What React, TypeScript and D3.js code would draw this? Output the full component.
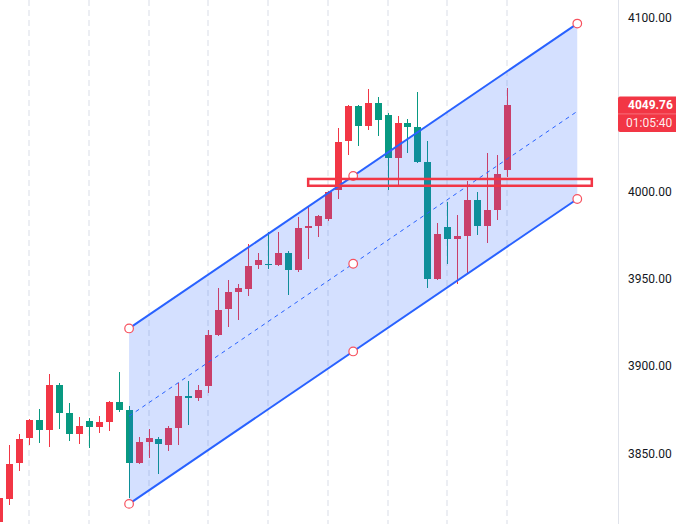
import React from "react";
import * as d3 from "d3";

// ---- data ----
const opens = [
  3810.6, 3824.0, 3844.6, 3858.9, 3869.1, 3863.5, 3889.2, 3873.1, 3861.2, 3868.5,
  3865.3, 3868.1, 3879.4, 3874.8, 3844.6, 3856.7, 3858.2, 3854.8, 3864.5, 3882.9,
  3881.7, 3888.6, 3917.8, 3932.7, 3942.5, 3944.2, 3958.0, 3958.5, 3958.0, 3964.9,
  3955.1, 3979.2, 3980.3, 3984.3, 4001.0, 4029.1, 4049.1, 4037.7, 4050.9, 4044.0,
  4019.3, 4039.4, 4037.1, 4017.0, 3949.9, 3979.8, 3972.9, 3974.6, 3995.2, 3980.3,
  3989.5, 4012.4,
];
const highs = [
  3826.0, 3854.8, 3861.1, 3869.5, 3875.4, 3895.5, 3890.3, 3878.8, 3870.8, 3870.2,
  3871.4, 3880.0, 3896.6, 3877.1, 3859.3, 3863.9, 3859.3, 3865.7, 3890.3, 3891.5,
  3889.2, 3920.7, 3944.8, 3949.4, 3947.1, 3970.0, 3964.9, 3976.9, 3976.9, 3966.0,
  3985.5, 3991.2, 3986.5, 4000.5, 4036.5, 4049.5, 4049.5, 4058.9, 4054.3, 4045.1,
  4043.4, 4041.7, 4057.2, 4029.1, 3982.1, 3994.1, 3986.6, 4006.1, 3999.8, 4022.2,
  4021.0, 4059.5,
];
const lows = [
  3805.0, 3820.2, 3840.0, 3854.9, 3856.1, 3853.8, 3864.1, 3857.2, 3855.5, 3853.2,
  3861.8, 3862.6, 3873.9, 3824.5, 3844.0, 3847.5, 3838.3, 3851.3, 3854.8, 3866.2,
  3880.0, 3884.6, 3917.5, 3922.4, 3926.4, 3940.2, 3955.7, 3955.7, 3957.4, 3940.8,
  3954.0, 3961.4, 3974.0, 3983.2, 3995.8, 4021.0, 4026.2, 4035.4, 4031.9, 4001.0,
  4003.8, 4022.2, 4016.5, 3944.8, 3949.4, 3958.5, 3947.1, 3953.4, 3975.2, 3970.6,
  3983.8, 4008.4,
];
const closes = [
  3824.5, 3843.9, 3858.2, 3869.1, 3863.5, 3889.2, 3873.3, 3861.2, 3865.7, 3865.3,
  3867.9, 3879.4, 3875.0, 3844.6, 3856.5, 3858.8, 3855.5, 3864.5, 3882.9, 3881.7,
  3886.3, 3917.8, 3932.2, 3942.5, 3944.8, 3957.4, 3960.8, 3958.0, 3964.9, 3955.1,
  3979.2, 3980.3, 3986.1, 3999.8, 4028.5, 4049.1, 4037.7, 4050.9, 4041.1, 4019.3,
  4039.4, 4037.1, 4017.0, 3949.9, 3975.7, 3972.9, 3974.6, 3995.2, 3980.3, 3989.5,
  4010.1, 4049.76,
];

const tickValues = [4100, 4000, 3950, 3900, 3850];
const tickLabels = ["4100.00", "4000.00", "3950.00", "3900.00", "3850.00"];
const gridIndices = [3, 9, 15, 21, 27, 33, 39, 45, 51];

// parallel channel: [bar index, price]
const channelTimes = [13, 58];
const channelTopPrices = [3921.6, 4096.4];
const channelWidth = 100.6;

// rectangle drawing: bar index range and price range
const rectTimes = [30.98, 59.46];
const rectPrices = [4007.3, 4003.4];

const lastPrice = 4049.76;
const lastPriceLabel = "4049.76";
const countdownLabel = "01:05:40";

// ---- styles ----
const W = 676;
const H = 524;
const AXIS_X = 618;
const UP = "#F23645";
const DOWN = "#089981";
const BLUE = "#2962FF";
const FONT = "Roboto, 'Liberation Sans', Arial, sans-serif";

export default function App() {
  const x = d3.scaleLinear().domain([0, 51]).range([-0.4, 507.56]);
  const y = d3.scaleLinear().domain([4000, 4100]).range([191.7, 17.3]);

  const candles = opens.map((o, i) => ({
    i,
    o,
    h: highs[i],
    l: lows[i],
    c: closes[i],
  }));

  const tl = [x(channelTimes[0]), y(channelTopPrices[0])];
  const tr = [x(channelTimes[1]), y(channelTopPrices[1])];
  const bl = [x(channelTimes[0]), y(channelTopPrices[0] - channelWidth)];
  const br = [x(channelTimes[1]), y(channelTopPrices[1] - channelWidth)];
  const ml = [tl[0], (tl[1] + bl[1]) / 2];
  const mr = [tr[0], (tr[1] + br[1]) / 2];
  const midT = (channelTimes[0] + channelTimes[1]) / 2;
  const mx = x(midT);
  const mTop = [mx, (tl[1] + tr[1]) / 2];
  const mMid = [mx, (ml[1] + mr[1]) / 2];
  const mBot = [mx, (bl[1] + br[1]) / 2];

  const line = d3.line<number[]>().x((d) => d[0]).y((d) => d[1]);
  const poly = line([tl, tr, br, bl]) + "Z";

  const rx0 = x(rectTimes[0]);
  const rx1 = x(rectTimes[1]);
  const ry0 = y(rectPrices[0]);
  const ry1 = y(rectPrices[1]);

  const ly = y(lastPrice);
  const boxTop = ly - 8.5;

  const anchors = [tl, bl, tr, br, mTop, mMid, mBot];

  return (
    <svg
      width={W}
      height={H}
      style={{ position: "fixed", left: 0, top: 0, background: "#fff" }}
      fontFamily={FONT}
    >
      <rect x={0} y={0} width={W} height={H} fill="#fff" />
      {/* vertical dashed grid */}
      {gridIndices.map((g) => (
        <line
          key={g}
          x1={Math.floor(x(g))}
          x2={Math.floor(x(g))}
          y1={0}
          y2={H}
          stroke="#eceef3"
          strokeWidth={2}
          strokeDasharray="6 4"
        />
      ))}
      {/* candles */}
      {candles.map((d) => {
        const cx = x(d.i);
        const left = Math.round(cx - 3.5);
        const col = d.c >= d.o ? UP : DOWN;
        const top = y(Math.max(d.o, d.c));
        const bot = y(Math.min(d.o, d.c));
        return (
          <g key={d.i} shapeRendering="crispEdges">
            <rect x={left + 3} y={y(d.h)} width={1} height={y(d.l) - y(d.h)} fill={col} />
            <rect x={left} y={top} width={7} height={Math.max(1, bot - top)} fill={col} />
          </g>
        );
      })}
      {/* channel */}
      <path d={poly} fill={BLUE} fillOpacity={0.2} />
      <path d={line([tl, tr])!} stroke={BLUE} strokeWidth={2} fill="none" />
      <path d={line([bl, br])!} stroke={BLUE} strokeWidth={2} fill="none" />
      <path d={line([ml, mr])!} stroke={BLUE} strokeWidth={1} strokeDasharray="4 4" fill="none" />
      {anchors.map((p, k) => (
        <circle key={k} cx={p[0]} cy={p[1]} r={4.3} fill="#fff" stroke="#F7525F" strokeWidth={1.2} />
      ))}
      {/* rectangle */}
      <rect
        x={rx0}
        y={ry0}
        width={rx1 - rx0}
        height={ry1 - ry0}
        fill="none"
        stroke={UP}
        strokeWidth={2.5}
      />
      {/* right axis */}
      <rect x={AXIS_X} y={0} width={W - AXIS_X} height={H} fill="#fff" />
      <line x1={AXIS_X + 0.5} x2={AXIS_X + 0.5} y1={0} y2={H} stroke="#e0e3eb" strokeWidth={1} />
      {tickValues.map((v, k) => (
        <text key={v} x={628} y={y(v)} dy="0.35em" fontSize={12} fill="#131722">
          {tickLabels[k]}
        </text>
      ))}
      <rect x={AXIS_X} y={boxTop} width={W - AXIS_X + 4} height={35.5} rx={2} fill={UP} />
      <line x1={AXIS_X} x2={W} y1={boxTop + 17.5} y2={boxTop + 17.5} stroke="#f7707c" strokeWidth={1} />
      <text x={628} y={boxTop + 8.8} dy="0.35em" fontSize={12} fontWeight="bold" fill="#fff">
        {lastPriceLabel}
      </text>
      <text x={626} y={boxTop + 26.5} dy="0.35em" fontSize={12} fill="#fff" fillOpacity={0.92}>
        {countdownLabel}
      </text>
    </svg>
  );
}
